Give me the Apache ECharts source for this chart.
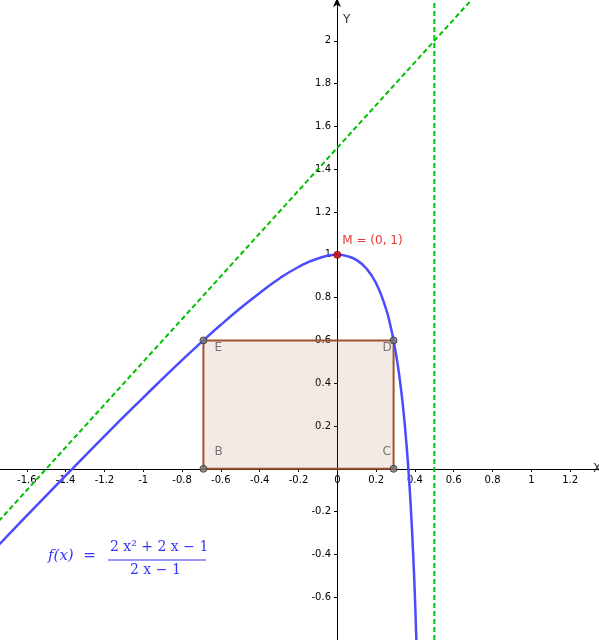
<!DOCTYPE html>
<html><head><meta charset="utf-8">
<script src="https://cdn.jsdelivr.net/npm/echarts@6/dist/echarts.min.js"></script>
<style>html,body{margin:0;padding:0;background:#fff}#c{width:599px;height:640px}</style>
</head><body><div id="c"></div>
<script>
const curveX = [-1.8,-1.737,-1.6,-1.5,-1.4,-1.2,-1.0,-0.9,-0.8,-0.7,-0.6,-0.5,-0.4,-0.3,-0.2,-0.1,0,0.05,0.1,0.15,0.2,0.25,0.27,0.29,0.31,0.32,0.33,0.34,0.35,0.36,0.37,0.38,0.39,0.40,0.41];
const curveY = [-0.411,-0.349,-0.219,-0.125,-0.032,0.153,0.333,0.421,0.508,0.592,0.673,0.75,0.822,0.888,0.943,0.983,1,0.994,0.975,0.936,0.867,0.75,0.683,0.60,0.494,0.431,0.359,0.278,0.183,0.074,-0.053,-0.203,-0.383,-0.6,-0.868];
const obliqueAsym = [[-1.8,-0.3],[0.7,2.2]];
const verticalAsym = [[0.5,-0.8],[0.5,2.2]];
const rectPts = [[-0.69,0],[0.29,0],[0.29,0.6],[-0.69,0.6]];
const rectNames = ['B','C','D','E'];
const pointM = [0,1];
const chart = echarts.init(document.getElementById('c'));
const ax = {color:'#000',fontSize:10,fontFamily:'DejaVu Sans'};
chart.setOption({
  animation:false,
  grid:{left:-12,right:-10,top:-2,bottom:0,containLabel:false,outerBoundsMode:'none'},
  xAxis:{type:'value',min:-1.8,max:1.4,interval:0.2,splitLine:{show:false},position:'bottom',offset:-171,
    name:'X',nameGap:-16,nameTextStyle:{fontSize:12,color:'#333',padding:[0,0,22,0],fontFamily:'DejaVu Sans'},
    axisLine:{onZero:false,lineStyle:{color:'#000'},symbol:['none','arrow'],symbolSize:[6,9]},
    axisTick:{length:3,lineStyle:{color:'#000'}},
    axisLabel:Object.assign({},ax,{formatter:v=>{v=Math.round(v*10)/10;return (v<=-1.8||v>=1.4)?'':String(v);}, margin:6})},
  yAxis:{type:'value',min:-0.8,max:2.2,interval:0.2,splitLine:{show:false},position:'left',offset:-349,
    name:'Y',nameGap:-14,nameTextStyle:{fontSize:12,color:'#333',align:'left',padding:[0,0,-14,6],fontFamily:'DejaVu Sans'},
    axisLine:{onZero:false,lineStyle:{color:'#000'},symbol:['none','arrow'],symbolSize:[6,9]},
    axisTick:{length:3,lineStyle:{color:'#000'}},
    axisLabel:Object.assign({},ax,{formatter:v=>{v=Math.round(v*10)/10;return (v===0||v<=-0.8||v>=2.2)?'':String(v);}, margin:6})},
  series:[
    {type:'custom',renderItem:(p,api)=>({type:'polygon',shape:{points:rectPts.map(q=>api.coord(q))},
      style:{fill:'rgba(153,76,38,0.12)',stroke:'#a0522d',lineWidth:2}}),data:[0],silent:true,z:1},
    {type:'line',data:obliqueAsym,symbol:'none',lineStyle:{color:'#00c000',width:2,type:[5,3]},z:2},
    {type:'line',data:verticalAsym,symbol:'none',lineStyle:{color:'#00c000',width:2,type:[5,3]},z:2},
    {type:'line',data:curveX.map((x,i)=>[x,curveY[i]]),symbol:'none',smooth:true,lineStyle:{color:'#4b4bff',width:2.5},z:3},
    {type:'scatter',data:rectPts.map((q,i)=>({value:q,name:rectNames[i]})),symbolSize:7,
      itemStyle:{color:'#777',borderColor:'#333',borderWidth:1},z:5,
      label:{show:true,formatter:p=>p.name,color:'#555',fontSize:12,fontFamily:'DejaVu Sans',
        position:'insideBottomLeft',offset:[0,0]},
      labelLayout:p=>{const n=rectNames[p.dataIndex];return {dx:(n==='B'||n==='E')?10:-12,dy:(n==='D'||n==='E')?14:-10};}},
    {type:'scatter',data:[pointM],symbolSize:7,itemStyle:{color:'#e00000',borderColor:'#800',borderWidth:1},z:5,
      label:{show:true,formatter:'M = (0, 1)',color:'#e00000',fontSize:12,fontFamily:'DejaVu Sans',position:'right',offset:[-4,-14]}}
  ],
  graphic:[
    {type:'text',left:48,top:549,style:{text:'f(x)  =',font:'italic 15px "DejaVu Serif"',fill:'#3333ff'}},
    {type:'text',left:110,top:540,style:{text:'2 x² + 2 x − 1',font:'14px "DejaVu Serif"',fill:'#3333ff'}},
    {type:'line',shape:{x1:108,y1:560,x2:206,y2:560},style:{stroke:'#3333ff',lineWidth:1}},
    {type:'text',left:130,top:563,style:{text:'2 x − 1',font:'14px "DejaVu Serif"',fill:'#3333ff'}}
  ]
});
</script></body></html>
